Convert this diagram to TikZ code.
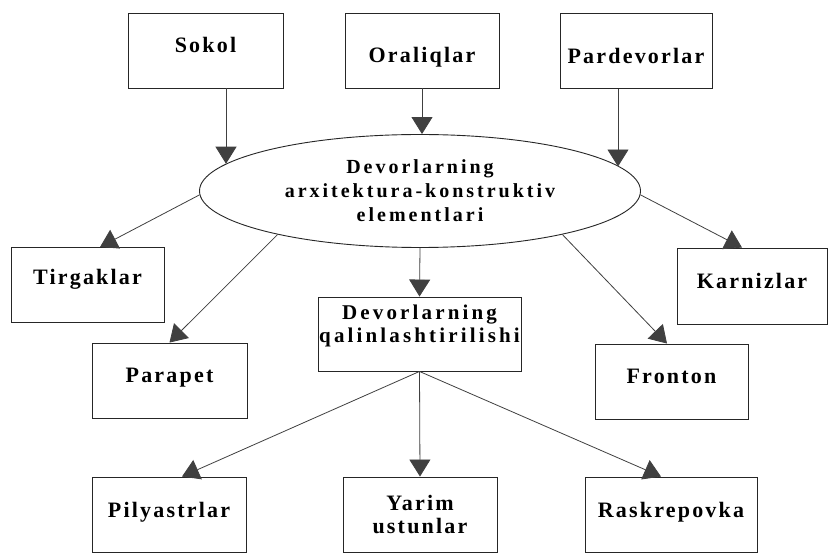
\documentclass[tikz,border=0pt]{standalone}
\usepackage{fontspec}
\setmainfont{Liberation Serif}
\newfontfamily\boxfont[LetterSpace=10]{Liberation Serif}
\newfontfamily\ellfont[LetterSpace=15]{Liberation Serif}
\usetikzlibrary{arrows.meta,shapes.geometric}
\begin{document}
\begin{tikzpicture}[x=1pt,y=-1pt,
  lbl/.style={font=\boxfont\fontsize{22}{23}\selectfont\bfseries},
  box/.style={lbl, draw=black!85, line width=0.9pt, rectangle, inner sep=0pt,
    minimum height=75pt, text height=16pt, text depth=11pt},
  topbox/.style={box, text height=25pt, text depth=0pt},
  twobox/.style={box, align=center, text height=, text depth=},
  arr/.style={draw=black!75, line width=0.8pt, -{Triangle[length=17pt,width=21pt]}}
]
\useasboundingbox (0,0) rectangle (828,553);
\fill[white] (0,0) rectangle (828,553);

% top row
\node[box, minimum width=155pt] (sok) at (205.5,50.5) {Sokol};
\node[topbox, minimum width=154pt] (ora) at (422,50.5) {Oraliqlar};
\node[topbox, minimum width=152pt] (par) at (636,51) {Pardevorlar};

% central ellipse
\node[draw=black!85, line width=0.9pt, ellipse, inner sep=0pt,
  minimum width=441pt, minimum height=113pt, align=center,
  font=\ellfont\fontsize{20}{24}\selectfont\bfseries] (ell) at (420,191)
  {Devorlarning\\arxitektura-konstruktiv\\elementlari};

% second level
\node[box, minimum width=153pt, text height=14pt, text depth=14pt] (tir) at (87.5,285) {Tirgaklar};
\node[box, minimum width=150pt, minimum height=76pt] (kar) at (752,286) {Karnizlar};
\node[twobox, minimum width=203pt, minimum height=74pt, text height=36pt, text depth=18pt,
  font=\ellfont\fontsize{21}{23}\selectfont\bfseries] (qal) at (419.5,334) {Devorlarning\\qalinlashtirilishi};
\node[box, minimum width=155pt] (prp) at (169.5,380.5) {Parapet};
\node[box, minimum width=153pt] (fro) at (671.5,381.5) {Fronton};

% bottom row
\node[box, minimum width=154pt] (pil) at (169,514.5) {Pilyastrlar};
\node[twobox, minimum width=154pt] (yar) at (420,514.5) {Yarim\\ustunlar};
\node[box, minimum width=172pt] (ras) at (671,514.5) {Raskrepovka};

% connectors into ellipse
\draw[arr] ([xshift=20.5pt]sok.south) -- ([xshift=20.5pt]sok.south |- ell.172);
\draw[arr] (ora.south) -- (ora.south |- ell.north);
\draw[arr] ([xshift=-18pt]par.south) -- ([xshift=-18pt]par.south |- ell.7);

% connectors out of ellipse
\draw[arr] (ell.181) -- ([xshift=12.5pt]tir.north);
\draw[arr] (ell.197) -- (prp.north);
\draw[arr] (ell.south) -- (qal.north);
\draw[arr] (ell.-17) -- ([xshift=-4.5pt]fro.north);
\draw[arr] (ell.359) -- ([xshift=-10pt]kar.north);

% connectors out of qalinlashtirilishi
\draw[arr] (qal.south) -- ([xshift=13pt]pil.north);
\draw[arr] (qal.south) -- (yar.north);
\draw[arr] (qal.south) -- ([xshift=-10pt]ras.north);
\end{tikzpicture}
\end{document}
